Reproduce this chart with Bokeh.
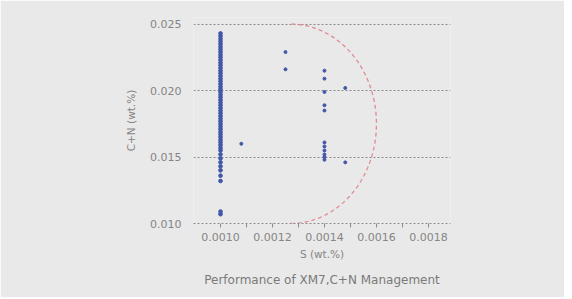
import numpy as np
from bokeh.plotting import figure
from bokeh.models import FixedTicker, Range1d, Title
from bokeh.embed import file_html
from bokeh.resources import INLINE

# Data
s_col1 = [0.0010] * 54
cn_col1 = [0.0243, 0.0241, 0.0239, 0.0237, 0.0235, 0.0233, 0.0231, 0.0229, 0.0227, 0.0225,
           0.0223, 0.0221, 0.0219, 0.0217, 0.0215, 0.0213, 0.0211, 0.0209, 0.0207, 0.0205,
           0.0203, 0.0201, 0.0199, 0.0197, 0.0195, 0.0193, 0.0191, 0.0189, 0.0187, 0.0185,
           0.0183, 0.0181, 0.0179, 0.0177, 0.0175, 0.0173, 0.0171, 0.0169, 0.0167, 0.0165,
           0.0163, 0.0161, 0.0159, 0.0157, 0.0155, 0.0152, 0.0149, 0.0146, 0.0143, 0.0140,
           0.0136, 0.0132, 0.0109, 0.0107]
s_other = [0.00108, 0.00125, 0.00125,
           0.0014, 0.0014, 0.0014, 0.0014, 0.0014,
           0.0014, 0.0014, 0.0014, 0.0014, 0.0014, 0.0014,
           0.00148, 0.00148]
cn_other = [0.0160, 0.0229, 0.0216,
            0.0215, 0.0209, 0.0199, 0.0189, 0.0185,
            0.0161, 0.0158, 0.0155, 0.0152, 0.0150, 0.0148,
            0.0202, 0.0146]

x_ticks = [0.0010, 0.0012, 0.0014, 0.0016, 0.0018]
x_minor = [0.0011, 0.0013, 0.0015, 0.0017]
y_ticks = [0.010, 0.015, 0.020, 0.025]

# Boundary arc (right half of an ellipse)
arc_center_s = 0.00127
arc_center_cn = 0.0175
arc_radius_s = 0.00033
arc_radius_cn = 0.0075

BG = "#e9e9e9"
PT = "#4257a8"
TXT = "#858585"
FONT = "DejaVu Sans"

p = figure(width=564, height=297, output_backend="svg", toolbar_location=None,
           x_range=Range1d(0.000896, 0.001885), y_range=Range1d(0.010, 0.0255),
           min_border_left=193, min_border_right=114, min_border_top=17, min_border_bottom=74)
p.background_fill_color = BG
p.border_fill_color = BG
p.outline_line_color = None

t = np.linspace(-np.pi / 2, np.pi / 2, 200)
p.line(arc_center_s + arc_radius_s * np.cos(t), arc_center_cn + arc_radius_cn * np.sin(t),
       line_color="#e08a94", line_dash="4 3", line_width=1.3)

p.scatter(s_col1, cn_col1, size=3.7, color=PT)
p.scatter(s_other, cn_other, size=3, color=PT)

# axes
p.xaxis.ticker = FixedTicker(ticks=x_ticks, minor_ticks=x_minor)
p.yaxis.ticker = FixedTicker(ticks=y_ticks)
p.xaxis.major_label_overrides = {v: f"{v:.4f}" for v in x_ticks}
p.yaxis.major_label_overrides = {v: f"{v:.3f}" for v in y_ticks}
p.xaxis.axis_label = "S (wt.%)"
p.yaxis.axis_label = "C+N (wt.%)"
for ax in (p.xaxis, p.yaxis):
    ax.major_label_text_font = FONT
    ax.major_label_text_font_size = "11px"
    ax.major_label_text_color = TXT
    ax.axis_label_text_font = FONT
    ax.axis_label_text_font_size = "10.5px"
    ax.axis_label_text_font_style = "normal"
    ax.axis_label_text_color = TXT
p.xaxis.axis_line_color = "#8a8a8a"
p.xaxis.axis_line_dash = "2 2"
p.xaxis.axis_line_width = 1.2
p.xaxis.major_tick_line_color = "#8a8a8a"
p.xaxis.minor_tick_line_color = "#8a8a8a"
p.xaxis.major_tick_out = 4
p.xaxis.major_tick_in = 0
p.xaxis.minor_tick_out = 4
p.xaxis.minor_tick_in = 0
p.xaxis.major_label_standoff = 5
p.xaxis.axis_label_standoff = 4
p.yaxis.axis_line_color = None
p.yaxis.major_tick_line_color = None
p.yaxis.minor_tick_line_color = None
p.yaxis.major_label_standoff = 6
p.yaxis.axis_label_standoff = 10

p.xgrid.grid_line_color = None
p.ygrid.grid_line_color = "#8a8a8a"
p.ygrid.grid_line_dash = "2 2"
p.ygrid.grid_line_width = 1.2

title = Title(text="Performance of XM7,C+N Management", align="center",
              text_font=FONT, text_font_size="12px", text_font_style="normal",
              text_color="#7a7a7a", standoff=17)
p.add_layout(title, "below")

open("out.html", "w").write(file_html(p, INLINE))
